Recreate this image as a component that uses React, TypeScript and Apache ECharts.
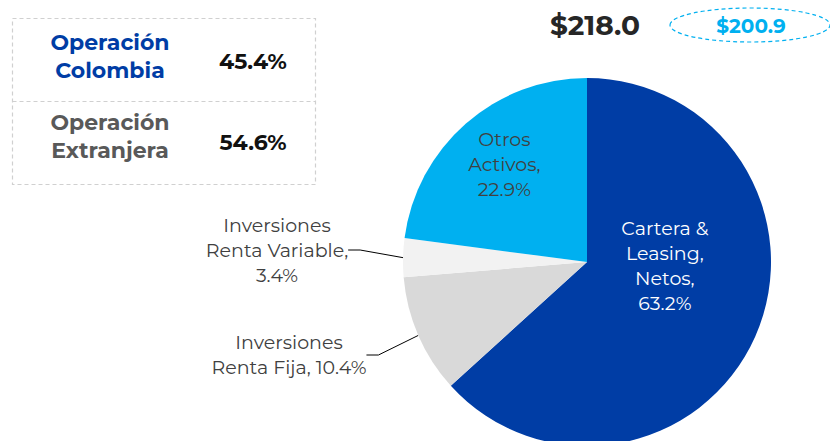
import React, { useEffect, useRef } from "react";
import * as echarts from "echarts";

const categories = [
  "Cartera &\nLeasing,\nNetos",
  "Inversiones\nRenta Fija",
  "Inversiones\nRenta Variable",
  "Otros\nActivos",
];
const values = [63.2, 10.4, 3.4, 22.9];
const colors = ["#003DA5", "#D9D9D9", "#F2F2F2", "#00B0F0"];
const tableRows = ["Operación\nColombia", "Operación\nExtranjera"];
const tableValues = ["45.4%", "54.6%"];
const totalNow = "$218.0";
const totalPrev = "$200.9";

const FONT = "Montserrat, 'Open Sans', 'Noto Sans', sans-serif";

export default function App() {
  const ref = useRef<HTMLDivElement>(null);
  useEffect(() => {
    document.body.style.margin = "0";
    const chart = echarts.init(ref.current!, null, { renderer: "svg" });
    const labelText = (i: number) => {
      const v = values[i].toFixed(1) + "%";
      if (i === 1) return "Inversiones\nRenta Fija, " + v;
      return categories[i] + ",\n" + v;
    };
    chart.setOption({
      animation: false,
      graphic: [
        {
          type: "rect",
          shape: { x: 12.5, y: 18.5, width: 303, height: 166 },
          style: { fill: "none", stroke: "#D0D0D0", lineWidth: 1.2, lineDash: [4, 3] },
        },
        {
          type: "line",
          shape: { x1: 12.5, y1: 101.5, x2: 315.5, y2: 101.5 },
          style: { stroke: "#D0D0D0", lineWidth: 1.2, lineDash: [4, 3] },
        },
        {
          type: "text",
          x: 110, y: 56,
          style: { text: tableRows[0], fill: "#003DA5", font: `bold 22px ${FONT}`, align: "center", verticalAlign: "middle", lineHeight: 28 },
        },
        {
          type: "text",
          x: 253, y: 61,
          style: { text: tableValues[0], fill: "#111111", font: `bold 22px ${FONT}`, align: "center", verticalAlign: "middle" },
        },
        {
          type: "text",
          x: 110, y: 136,
          style: { text: tableRows[1], fill: "#595959", font: `bold 22px ${FONT}`, align: "center", verticalAlign: "middle", lineHeight: 28 },
        },
        {
          type: "text",
          x: 253, y: 142,
          style: { text: tableValues[1], fill: "#111111", font: `bold 22px ${FONT}`, align: "center", verticalAlign: "middle" },
        },
        {
          type: "text",
          x: 595, y: 25,
          style: { text: totalNow, fill: "#262626", font: `bold 28px ${FONT}`, align: "center", verticalAlign: "middle" },
        },
        {
          type: "ellipse",
          shape: { cx: 750, cy: 25, rx: 80, ry: 17 },
          style: { fill: "none", stroke: "#00B0F0", lineWidth: 1.2, lineDash: [4, 3] },
        },
        {
          type: "text",
          x: 751, y: 26,
          style: { text: totalPrev, fill: "#00B0F0", font: `bold 20px ${FONT}`, align: "center", verticalAlign: "middle" },
        },
      ],
      series: [
        {
          type: "pie",
          center: [587, 262],
          radius: 184,
          startAngle: 90,
          clockwise: true,
          silent: true,
          data: values.map((v, i) => ({
            value: v,
            name: categories[i],
            itemStyle: { color: colors[i] },
            label:
              i === 0 || i === 3
                ? {
                    show: true,
                    position: "inside",
                    color: i === 0 ? "#FFFFFF" : "#404040",
                    formatter: () => labelText(i),
                  }
                : {
                    show: true,
                    position: "outside",
                    color: "#404040",
                    formatter: () => labelText(i),
                  },
            labelLine:
              i === 1 || i === 2
                ? { show: true, length: 15, length2: 12, lineStyle: { color: "#000000", width: 1 } }
                : { show: false },
          })),
          label: {
            fontFamily: FONT,
            fontSize: 19,
            fontWeight: 400,
            lineHeight: 25,
            align: "center",
          },
          labelLayout: (p: any) => {
            if (p.dataIndex === 0) return { dx: -9, dy: -34 };
            if (p.dataIndex === 3) return { dx: -20, dy: -26 };
            if (p.dataIndex === 2) return { x: 277, y: 250, align: "center", verticalAlign: "middle" };
            if (p.dataIndex === 1) return { x: 289, y: 355, align: "center", verticalAlign: "middle" };
            return {};
          },
        },
      ],
    });
    return () => chart.dispose();
  }, []);
  return <div ref={ref} style={{ width: 830, height: 441 }} />;
}
